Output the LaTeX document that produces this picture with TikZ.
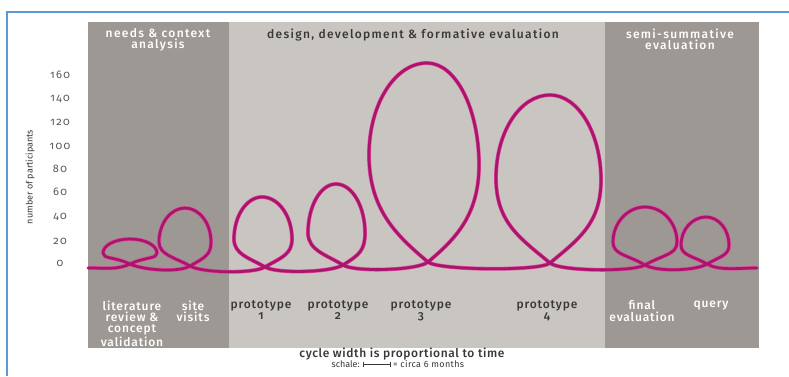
\documentclass[tikz,border=0pt]{standalone}
\usepackage{fontspec}
\setmainfont{Fira Sans}[Numbers=OldStyle, BoldFont={Fira Sans Medium}]
\usetikzlibrary{arrows.meta}
\definecolor{framebl}{HTML}{5B9BD5}
\definecolor{darkpanel}{HTML}{9D9893}
\definecolor{lightpanel}{HTML}{C9C6C1}
\definecolor{txtdark}{HTML}{3A3836}
\definecolor{axisgray}{HTML}{5A5856}
\definecolor{loopcore}{HTML}{A8156C}
\definecolor{loophalo}{HTML}{E5489A}
\begin{document}
\begin{tikzpicture}[x=1pt,y=1pt,
  hdr/.style={font=\fontsize{12}{11}\selectfont\bfseries\addfontfeatures{LetterSpace=11}, align=center, inner sep=0, anchor=north},
  lbl/.style={font=\fontsize{12}{11.3}\selectfont\bfseries\addfontfeatures{LetterSpace=7}, align=center, inner sep=0, anchor=north},
  ylab/.style={font=\fontsize{11}{11}\selectfont\addfontfeatures{LetterSpace=12}, text=axisgray, inner sep=0},
  cyc/.style={line width=2.7pt, draw=loopcore, line cap=round, line join=round,
    preaction={draw=loophalo, line width=3.9pt}},
  od/.style={out distance=#1pt},
  id/.style={in distance=#1pt}
]
\useasboundingbox (0,0) rectangle (789,-376);
\fill[white] (0,0) rectangle (789,-376);
\draw[framebl, line width=1.4pt] (7,-376) -- (7,-12) -- (789,-12);

% panels
\fill[darkpanel] (88,-22) rectangle (229,-348);
\fill[lightpanel] (229,-22) rectangle (605,-348);
\fill[darkpanel] (605,-22) rectangle (759,-348);

% headers
\node[hdr, text=white] (hneeds) at (158,-28.5) {needs \& context\\analysis};
\node[hdr, text=txtdark] (hdesign) at (413,-28.5) {design, development \& formative evaluation};
\node[hdr, text=white] (hsemi) at (680,-28.5) {semi-summative\\evaluation};

% y axis
\node[ylab] (y160) at (60,-75) {160};
\node[ylab] (y140) at (60,-99) {140};
\node[ylab] (y120) at (60,-122) {120};
\node[ylab] (y100) at (60,-146) {100};
\node[ylab] (y80) at (60,-169) {80};
\node[ylab] (y60) at (60,-192) {60};
\node[ylab] (y40) at (60,-217) {40};
\node[ylab] (y20) at (60,-241) {20};
\node[ylab] (y0) at (60,-263) {0};
\node[rotate=90, font=\fontsize{9}{9}\selectfont, text=txtdark, inner sep=0] (ytitle) at (30,-177) {number of participants};

% curve points
\coordinate (S) at (88,-268);
\coordinate (C1) at (130,-264); \coordinate (R1) at (157,-253); \coordinate (T1) at (130,-239); \coordinate (L1) at (103,-253);
\coordinate (C2) at (190,-266); \coordinate (R2) at (211,-242); \coordinate (T2) at (185,-208); \coordinate (L2) at (159,-242);
\coordinate (C3) at (265,-267); \coordinate (R3) at (292,-239); \coordinate (T3) at (262,-197); \coordinate (L3) at (234,-239);
\coordinate (C4) at (343,-265); \coordinate (R4) at (365,-233); \coordinate (T4) at (336,-184); \coordinate (L4) at (308,-233);
\coordinate (C5) at (428,-262); \coordinate (R5) at (479,-165); \coordinate (T5) at (427,-63); \coordinate (L5) at (369,-155);
\coordinate (C6) at (550,-263); \coordinate (R6) at (601,-180); \coordinate (T6) at (550,-95); \coordinate (L6) at (496,-178);
\coordinate (C7) at (645,-265); \coordinate (R7) at (677,-242); \coordinate (T7) at (645,-207); \coordinate (L7) at (613,-242);
\coordinate (C8) at (707,-264); \coordinate (R8) at (729,-245); \coordinate (T8) at (706,-217); \coordinate (L8) at (681,-245);
\coordinate (E) at (757,-268);

\draw[cyc] (S) to[out=0,in=205,od=18,id=14] (C1)
  to[out=25,in=-90,od=17.5,id=6] (R1) to[out=90,in=0,od=7.7,id=15] (T1) to[out=180,in=90,od=15,id=7.7] (L1) to[out=-90,in=155,od=6,id=17.5] (C1)
  to[out=-25,in=210,od=14,id=14] (C2)
  to[out=30,in=-90,od=17,id=13] (R2) to[out=90,in=0,od=18.7,id=14.3] (T2) to[out=180,in=90,od=14.3,id=18.7] (L2) to[out=-90,in=150,od=13,id=17] (C2)
  to[out=-30,in=210,od=14,id=14] (C3)
  to[out=30,in=-90,od=19.5,id=15.4] (R3) to[out=90,in=0,od=23,id=16.5] (T3) to[out=180,in=90,od=15.4,id=23] (L3) to[out=-90,in=150,od=15.4,id=18.2] (C3)
  to[out=-30,in=212,od=14,id=14] (C4)
  to[out=32,in=-90,od=19,id=17.6] (R4) to[out=90,in=0,od=27,id=16] (T4) to[out=180,in=90,od=15.4,id=27] (L4) to[out=-90,in=148,od=17.6,id=18.2] (C4)
  to[out=-32,in=220,od=14,id=13] (C5)
  to[out=40,in=-90,od=36,id=50] (R5) to[out=90,in=0,od=56,id=29] (T5) to[out=180,in=90,od=32,id=51] (L5) to[out=-90,in=140,od=55,id=40] (C5)
  to[out=-40,in=220,od=13,id=13] (C6)
  to[out=40,in=-90,od=36,id=44] (R6) to[out=90,in=0,od=47,id=28] (T6) to[out=180,in=90,od=30,id=46] (L6) to[out=-90,in=140,od=45,id=38] (C6)
  to[out=-40,in=210,od=13,id=14] (C7)
  to[out=30,in=-90,od=21,id=12.7] (R7) to[out=90,in=0,od=19,id=17.7] (T7) to[out=180,in=90,od=17.7,id=19] (L7) to[out=-90,in=150,od=12.7,id=21] (C7)
  to[out=-30,in=210,od=14,id=14] (C8)
  to[out=30,in=-90,od=15,id=10.5] (R8) to[out=90,in=0,od=15.4,id=12.7] (T8) to[out=180,in=90,od=13.8,id=15.4] (L8) to[out=-90,in=150,od=10.5,id=16] (C8)
  to[out=-30,in=180,od=14,id=18] (E);

% bottom labels
\node[lbl, text=white] (llit) at (132,-300.5) {literature\\review \&\\concept\\validation};
\node[lbl, text=white] (lsite) at (193,-300.5) {site\\visits};
\node[lbl, text=txtdark] (lp1) at (261,-300.5) {prototype\\1};
\node[lbl, text=txtdark] (lp2) at (338,-300.5) {prototype\\2};
\node[lbl, text=txtdark] (lp3) at (421,-300.5) {prototype\\3};
\node[lbl, text=txtdark] (lp4) at (547,-300.5) {prototype\\4};
\node[lbl, text=white] (lfinal) at (642,-300.5) {final\\evaluation};
\node[lbl, text=white] (lquery) at (711,-300.5) {query};

% caption
\node[font=\fontsize{12}{12}\selectfont\bfseries\addfontfeatures{LetterSpace=5}, text=txtdark, inner sep=0] (cap) at (402,-354) {cycle width is proportional to time};
\node[font=\fontsize{9}{9}\selectfont, text=txtdark, inner sep=0, anchor=east] (schale) at (360,-364) {schale:};
\coordinate (sb1) at (363,-364);
\coordinate (sb2) at (390,-364);
\draw[txtdark, line width=0.5pt, {Bar[width=5pt]}-{Bar[width=5pt]}] (sb1) -- (sb2);
\node[font=\fontsize{9}{9}\selectfont\addfontfeatures{LetterSpace=4}, text=txtdark, inner sep=0, anchor=west] (months) at (393,-364) {= circa 6 months};
\end{tikzpicture}
\end{document}
